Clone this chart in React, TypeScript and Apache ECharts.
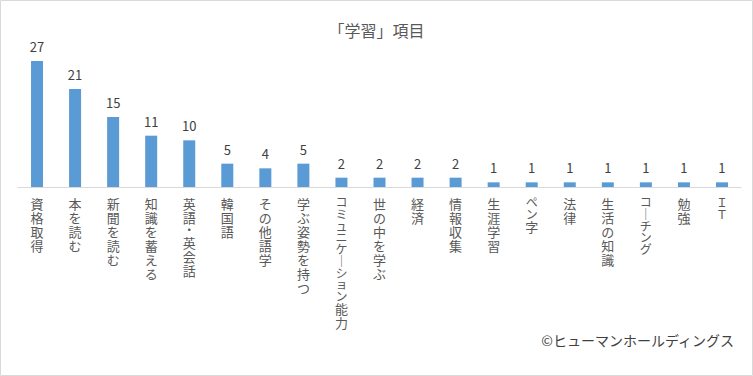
import React, { useEffect, useRef } from "react";
import * as echarts from "echarts";

const titleText = "「学習」項目";
const creditText = "©ヒューマンホールディングス";
const categories = [
  "資格取得",
  "本を読む",
  "新聞を読む",
  "知識を蓄える",
  "英語・英会話",
  "韓国語",
  "その他語学",
  "学ぶ姿勢を持つ",
  "コミュニケーション能力",
  "世の中を学ぶ",
  "経済",
  "情報収集",
  "生涯学習",
  "ペン字",
  "法律",
  "生活の知識",
  "コーチング",
  "勉強",
  "ＩＴ",
];
const values = [27, 21, 15, 11, 10, 5, 4, 5, 2, 2, 2, 2, 1, 1, 1, 1, 1, 1, 1];

const FONT = '"Noto Sans CJK JP", "Noto Sans", sans-serif';

function verticalLabel(v: string): string {
  return v
    .split("")
    .map((c) => {
      const narrow = /[\u30A0-\u30FF\uFF21-\uFF3A]/.test(c);
      const ch = c === "ー" ? "｜" : c;
      return narrow ? `{n|${ch}}` : `{k|${ch}}`;
    })
    .join("\n");
}

export default function App() {
  const ref = useRef<HTMLDivElement>(null);
  useEffect(() => {
    if (!ref.current) return;
    const chart = echarts.init(ref.current, null, { renderer: "svg" });
    chart.setOption({
      animation: false,
      backgroundColor: "#ffffff",
      title: {
        text: titleText,
        left: "center",
        top: 17,
        textStyle: { fontFamily: FONT, fontSize: 16, fontWeight: "normal", color: "#595959" },
      },
      grid: { left: 18, right: 12, top: 47, bottom: 189, containLabel: false },
      xAxis: {
        type: "category",
        data: categories,
        axisLine: { lineStyle: { color: "#d9d9d9", width: 1 } },
        axisTick: { show: false },
        axisLabel: {
          interval: 0,
          margin: 9,
          fontFamily: FONT,
          fontSize: 13,
          color: "#595959",
          verticalAlign: "top",
          formatter: verticalLabel,
          rich: {
            k: { fontFamily: FONT, fontSize: 13, lineHeight: 14, color: "#595959" },
            n: { fontFamily: FONT, fontSize: 12, lineHeight: 11.7, color: "#595959" },
          },
        },
      },
      yAxis: {
        type: "value",
        min: 0,
        max: 30,
        show: false,
        splitLine: { show: false },
      },
      series: [
        {
          type: "bar",
          data: values,
          barWidth: 12,
          itemStyle: { color: "#5b9bd5" },
          label: {
            show: true,
            position: "top",
            distance: 8,
            fontFamily: FONT,
            fontSize: 13,
            color: "#404040",
          },
        },
      ],
      graphic: [
        {
          type: "rect",
          shape: { x: 0.5, y: 0.5, width: 752, height: 375 },
          style: { fill: "none", stroke: "#d9d9d9", lineWidth: 1 },
          silent: true,
        },
        {
          type: "text",
          right: 18,
          top: 333,
          style: { text: creditText, fontFamily: FONT, fontSize: 14, fill: "#404040" },
        },
      ],
    });
    return () => chart.dispose();
  }, []);
  return (
    <div
      ref={ref}
      style={{ position: "fixed", left: 0, top: 0, width: 753, height: 376 }}
    />
  );
}
